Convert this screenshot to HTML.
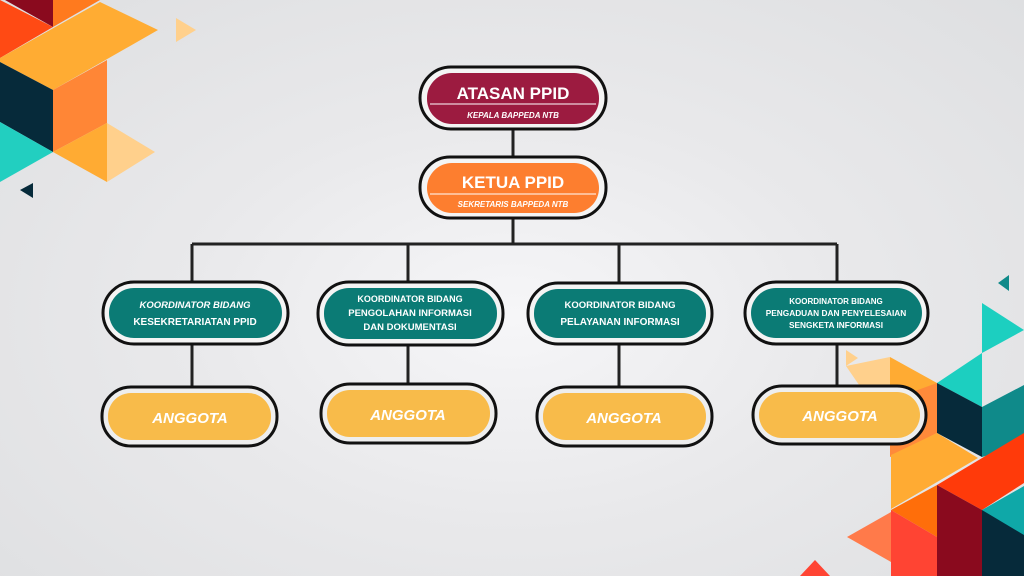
<!DOCTYPE html>
<html><head><meta charset="utf-8"><style>
html,body{margin:0;padding:0;width:1024px;height:576px;overflow:hidden;}
body{background:radial-gradient(ellipse at 50% 55%,#f6f6f8 0%,#e9e9eb 45%,#dedfe1 100%);}
svg{position:absolute;left:0;top:0;}
text{font-family:"Liberation Sans",sans-serif;fill:#fff;font-weight:bold;text-anchor:middle;}
</style></head><body>
<svg width="1024" height="576" viewBox="0 0 1024 576">
<!-- top-left decoration -->
<polygon points="5,0 53,0 53,27" fill="#8a0a1e"/>
<polygon points="0,0 53,27 0,58" fill="#ff4a14"/>
<polygon points="53,0 100,0 53,27" fill="#ff7a1e"/>
<polygon points="0,58 100,2 158,30 53,90 0,62" fill="#ffac33"/>
<polygon points="0,62 53,90 53,152 0,122" fill="#062a3a"/>
<polygon points="53,90 107,60 107,123 53,152" fill="#ff8636"/>
<polygon points="0,122 53,152 0,182" fill="#22cfc0"/>
<polygon points="53,152 107,123 107,182" fill="#ffab33"/>
<polygon points="107,123 155,152 107,182" fill="#ffd08c"/>
<polygon points="176,18 196,30 176,42" fill="#ffd08c"/>
<polygon points="20,190 33,183 33,198" fill="#062a3a"/>
<!-- bottom-right decoration -->
<polygon points="998,283 1009,275 1009,291" fill="#0f8a8a"/>
<polygon points="982,303 1024,330 982,353" fill="#1ccfc0"/>
<polygon points="846,350 858,358 846,366" fill="#ffd08c"/>
<polygon points="846,366 890,357 890,430" fill="#ffd08c"/>
<polygon points="937,383 982,353 982,407" fill="#1ccfc0"/>
<polygon points="890,357 937,383 937,433 890,457" fill="#ffab33"/>
<polygon points="890,400 937,383 937,433 890,457" fill="#ff8a3a"/>
<polygon points="937,383 982,407 982,457 937,433" fill="#062a3a"/>
<polygon points="982,407 1024,385 1024,445 982,457" fill="#0f8a8a"/>
<polygon points="891,455 937,433 978,458 891,509" fill="#ffab33"/>
<polygon points="937,485 1024,433 1024,483 982,510" fill="#ff3a0a"/>
<polygon points="891,510 937,485 937,537" fill="#ff6e0a"/>
<polygon points="937,485 982,510 982,576 937,576" fill="#8a0a1e"/>
<polygon points="982,510 1024,486 1024,540" fill="#0fa8a8"/>
<polygon points="982,510 1024,535 1024,576 982,576" fill="#062a3a"/>
<polygon points="891,510 937,537 937,576 891,576" fill="#ff4433"/>
<polygon points="847,537 891,512 891,562" fill="#ff7a4a"/>
<polygon points="800,576 815,560 830,576" fill="#ff4433"/>

<!-- connectors -->
<g stroke="#222" stroke-width="3" fill="none">
<line x1="513" y1="128" x2="513" y2="158"/>
<line x1="513" y1="218" x2="513" y2="244"/>
<line x1="192" y1="244" x2="837" y2="244"/>
<line x1="192" y1="244" x2="192" y2="282"/>
<line x1="408" y1="244" x2="408" y2="282"/>
<line x1="619" y1="244" x2="619" y2="284"/>
<line x1="837" y1="244" x2="837" y2="282"/>
<line x1="192" y1="344" x2="192" y2="388"/>
<line x1="408" y1="345" x2="408" y2="385"/>
<line x1="619" y1="344" x2="619" y2="388"/>
<line x1="837" y1="344" x2="837" y2="387"/>
</g>

<!-- top nodes -->
<rect x="420" y="67" width="186" height="62" rx="31" fill="#f4f4f4" stroke="#111" stroke-width="3"/>
<rect x="427" y="73" width="172" height="51" rx="25" fill="#9c1b40"/>
<line x1="430" y1="104" x2="596" y2="104" stroke="#fff" stroke-width="1"/>
<text x="513" y="99" font-size="17">ATASAN PPID</text>
<text x="513" y="118" font-size="8" font-style="italic">KEPALA BAPPEDA NTB</text>

<rect x="420" y="157" width="186" height="61" rx="30" fill="#f4f4f4" stroke="#111" stroke-width="3"/>
<rect x="427" y="163" width="172" height="50" rx="25" fill="#fd7e2f"/>
<line x1="430" y1="194" x2="596" y2="194" stroke="#fff" stroke-width="1"/>
<text x="513" y="188" font-size="17">KETUA PPID</text>
<text x="513" y="207" font-size="8" font-style="italic">SEKRETARIS BAPPEDA NTB</text>

<!-- koordinator nodes -->
<g>
<rect x="103" y="282" width="185" height="62" rx="31" fill="#f4f4f4" stroke="#111" stroke-width="3"/>
<rect x="109" y="288" width="173" height="50" rx="25" fill="#0b7b75"/>
<text x="195" y="308" font-size="9.5" font-weight="normal" font-style="italic">KOORDINATOR BIDANG</text>
<text x="195" y="325" font-size="10">KESEKRETARIATAN PPID</text>

<rect x="318" y="282" width="185" height="63" rx="31" fill="#f4f4f4" stroke="#111" stroke-width="3"/>
<rect x="324" y="288" width="173" height="51" rx="25" fill="#0b7b75"/>
<text x="410" y="302" font-size="9" font-weight="normal">KOORDINATOR BIDANG</text>
<text x="410" y="316" font-size="9.5">PENGOLAHAN INFORMASI</text>
<text x="410" y="330" font-size="9.5">DAN DOKUMENTASI</text>

<rect x="528" y="283" width="184" height="61" rx="30" fill="#f4f4f4" stroke="#111" stroke-width="3"/>
<rect x="534" y="289" width="172" height="49" rx="24" fill="#0b7b75"/>
<text x="620" y="308" font-size="9.5" font-weight="normal">KOORDINATOR BIDANG</text>
<text x="620" y="325" font-size="10">PELAYANAN INFORMASI</text>

<rect x="745" y="282" width="183" height="62" rx="31" fill="#f4f4f4" stroke="#111" stroke-width="3"/>
<rect x="751" y="288" width="171" height="50" rx="25" fill="#0b7b75"/>
<text x="836" y="304" font-size="8" font-weight="normal">KOORDINATOR BIDANG</text>
<text x="836" y="316" font-size="8.3">PENGADUAN DAN PENYELESAIAN</text>
<text x="836" y="328" font-size="8.3">SENGKETA INFORMASI</text>
</g>

<!-- anggota -->
<g>
<rect x="102" y="387" width="175" height="59" rx="29" fill="#eeeeee" stroke="#111" stroke-width="3"/>
<rect x="108" y="393" width="163" height="47" rx="23" fill="#f8bb4a"/>
<text x="190" y="423" font-size="15" font-style="italic">ANGGOTA</text>

<rect x="321" y="384" width="175" height="59" rx="29" fill="#eeeeee" stroke="#111" stroke-width="3"/>
<rect x="327" y="390" width="163" height="47" rx="23" fill="#f8bb4a"/>
<text x="408" y="420" font-size="15" font-style="italic">ANGGOTA</text>

<rect x="537" y="387" width="175" height="59" rx="29" fill="#eeeeee" stroke="#111" stroke-width="3"/>
<rect x="543" y="393" width="163" height="47" rx="23" fill="#f8bb4a"/>
<text x="624" y="423" font-size="15" font-style="italic">ANGGOTA</text>

<rect x="753" y="386" width="173" height="58" rx="29" fill="#eeeeee" stroke="#111" stroke-width="3"/>
<rect x="759" y="392" width="161" height="46" rx="23" fill="#f8bb4a"/>
<text x="840" y="421" font-size="15" font-style="italic">ANGGOTA</text>
</g>
</svg>
</body></html>
